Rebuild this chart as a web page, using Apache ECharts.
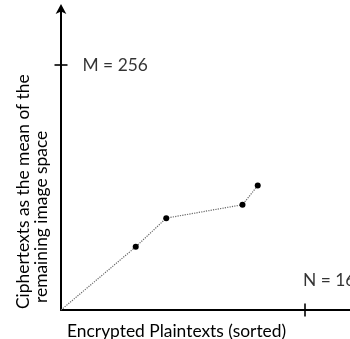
<!DOCTYPE html>
<html>
<head>
<meta charset="utf-8">
<script src="https://cdn.jsdelivr.net/npm/echarts@6/dist/echarts.min.js"></script>
<style>
html,body{margin:0;padding:0;background:#fff;}
#chart{width:350px;height:339px;}
</style>
</head>
<body>
<div id="chart"></div>
<script>
// Data
const plaintexts = [0, 4.9, 6.9, 11.9, 12.9];
const ciphertexts = [0, 66, 96, 110, 130];
const xTickValues = [16];
const xTickLabels = ['N = 16'];
const yTickValues = [256];
const yTickLabels = ['M = 256'];
const xTitle = 'Encrypted Plaintexts (sorted)';
const yTitleLines = ['Ciphertexts as the mean of the', 'remaining image space'];

const FONT = 'Lato';
const FS = 17.4;

const lineData = plaintexts.map((x, i) => ({
  value: [x, ciphertexts[i]],
  symbolSize: i === 0 ? 0 : 6
}));

const chart = echarts.init(document.getElementById('chart'), null, {renderer: 'canvas'});
chart.setOption({
  animation: false,
  backgroundColor: '#fff',
  grid: {left: 61, right: 0, top: 10, bottom: 29, outerBoundsMode: 'none'},
  xAxis: {
    type: 'value', min: 0, max: 18.95,
    axisLine: {show: true, onZero: false, lineStyle: {color: '#000', width: 2}},
    axisTick: {show: false}, axisLabel: {show: false}, splitLine: {show: false}
  },
  yAxis: {
    type: 'value', min: 0, max: 313.5,
    axisLine: {show: true, onZero: false, symbol: ['none', 'arrow'], symbolSize: [8, 10], symbolOffset: [0, 6],
      lineStyle: {color: '#000', width: 2}},
    axisTick: {show: false}, axisLabel: {show: false}, splitLine: {show: false}
  },
  series: [
    {
      type: 'line',
      data: lineData,
      symbol: 'circle',
      itemStyle: {color: '#000'},
      lineStyle: {color: '#666', width: 1.2, type: 'dotted'},
      z: 3
    },
    {
      type: 'scatter',
      symbol: 'rect',
      symbolSize: [13, 2],
      itemStyle: {color: '#000'},
      data: yTickValues.map((v, i) => ({value: [0, v], label: {formatter: yTickLabels[i]}})),
      label: {show: true, position: 'right', distance: 15, color: '#000', fontFamily: FONT, fontSize: FS},
      clip: false
    },
    {
      type: 'scatter',
      symbol: 'rect',
      symbolSize: [2, 13],
      itemStyle: {color: '#000'},
      data: xTickValues.map((v, i) => ({value: [v, 0], label: {formatter: xTickLabels[i]}})),
      label: {show: true, position: [-1, -23], align: 'left', verticalAlign: 'middle', color: '#000', fontFamily: FONT, fontSize: FS},
      clip: false
    }
  ],
  graphic: [
    {type: 'text', x: 67, y: 331, style: {text: xTitle, font: FS + 'px ' + FONT, fill: '#000', textAlign: 'left', textVerticalAlign: 'middle'}},
    {type: 'text', x: 23, y: 309, rotation: Math.PI / 2, style: {text: yTitleLines[0], font: FS + 'px ' + FONT, fill: '#000', textAlign: 'left', textVerticalAlign: 'middle'}},
    {type: 'text', x: 41, y: 303, rotation: Math.PI / 2, style: {text: yTitleLines[1], font: FS + 'px ' + FONT, fill: '#000', textAlign: 'left', textVerticalAlign: 'middle'}}
  ]
});
</script>
</body>
</html>
